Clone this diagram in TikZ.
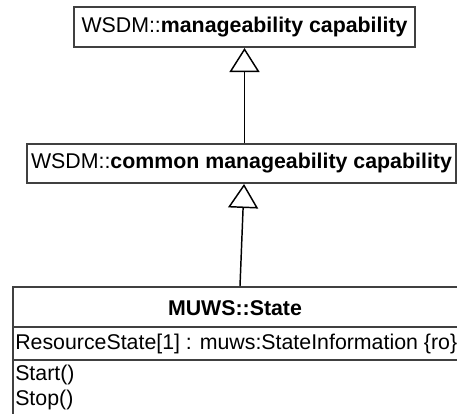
\documentclass[tikz,border=0pt]{standalone}
\usepackage{fontspec}
\setmainfont{Liberation Sans}
\usetikzlibrary{arrows.meta}

\begin{document}
\begin{tikzpicture}[x=0.75pt,y=-0.75pt]
      \tikzstyle{cls}=[rectangle,draw=black!75,line width=1.5pt,
        inner sep=0pt,font=\fontsize{16}{18.75}\selectfont]
      \tikzstyle{txt}=[inner sep=0pt,font=\fontsize{16}{18.75}\selectfont]
      \tikzstyle{gen}=[-{Triangle[open,width=22.5pt,length=18pt]},
        line width=1.1pt]
      \tikzstyle{div}=[draw=black!75,line width=1.5pt]

      \useasboundingbox (0,0) rectangle (457,414);
      \clip (0,0) rectangle (457,414);

      \node[cls,minimum width=255.75pt,minimum height=30pt] (mgmt) at (244.5,27)
           {WSDM::\textbf{manageability capability}};
      \node[cls,minimum width=321.75pt,minimum height=29.25pt] (common) at (241.5,163.5)
           {WSDM::\textbf{common manageability capability}};

      % class box, cut off at the bottom and right
      \node[cls,minimum width=336pt,minimum height=107.25pt] (state) at (237,358.5) {};
      \node[txt,anchor=base] (statename) at (235,315) {\textbf{MUWS::State}};
      \node[txt,anchor=base west] (stateattr) at (15,349)
           {ResourceState[1] : muws:StateInformation \{ro\}};
      \node[txt,anchor=base west,align=left] (stateops) at (15,405) {Start()\\Stop()};

      \coordinate (div1) at (0,327);
      \coordinate (div2) at (0,360);
      \draw[div] (state.west |- div1) -- (state.east |- div1);
      \draw[div] (state.west |- div2) -- (state.east |- div2);

      \draw[gen] (common.north -| mgmt.south) -- (mgmt.south);
      \draw[gen] ([xshift=2.25pt]state.north) -- ([xshift=1.9pt]common.south);

\end{tikzpicture}
\end{document}
